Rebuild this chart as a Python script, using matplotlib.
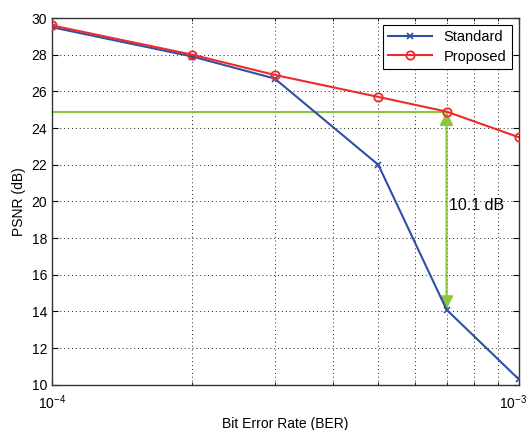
import matplotlib
matplotlib.use("Agg")
import matplotlib.pyplot as plt
import matplotlib.transforms as mtransforms
from matplotlib.ticker import FixedLocator, NullFormatter

plt.rcParams['font.family'] = ['Liberation Sans', 'DejaVu Sans']
plt.rcParams['mathtext.fontset'] = 'custom'
plt.rcParams['mathtext.rm'] = 'Liberation Sans'

ber = [1e-4, 2e-4, 3e-4, 5e-4, 7e-4, 1e-3]
standard = [29.5, 27.9, 26.7, 22.0, 14.1, 10.3]
proposed = [29.6, 28.0, 26.9, 25.7, 24.9, 23.5]
yticks = [10, 12, 14, 16, 18, 20, 22, 24, 26, 28, 30]
gap_label = "10.1 dB"

fig = plt.figure(figsize=(5.3, 4.3), dpi=100)
ax = fig.add_axes([0.098, 0.105, 0.881, 0.853])

green = '#8CC63F'
ax.plot([ber[0], ber[4]], [proposed[4], proposed[4]], color=green, lw=1.5, zorder=2)
ax.annotate('', xy=(ber[4], standard[4]), xytext=(ber[4], proposed[4]),
            arrowprops=dict(arrowstyle='<|-|>', color=green, lw=1.5,
                            mutation_scale=20, shrinkA=0, shrinkB=0), zorder=2)

ax.plot(ber, standard, color='#2F4FA8', lw=1.5, marker='x', ms=5, mew=1.2,
        label='Standard', zorder=3)
ax.plot(ber, proposed, color='#EE2A2A', lw=1.5, marker='o', ms=6, mfc='none',
        mew=1.3, label='Proposed', zorder=4)

ax.text(7.1e-4, 19.8, gap_label, fontsize=11.5, va='center', ha='left')

ax.set_xscale('log')
ax.set_xlim(1e-4, 1e-3)
ax.set_ylim(10, 30)
ax.set_yticks(yticks)
ax.set_xticks([1e-4, 1e-3])
ax.set_xticklabels([r'$\mathregular{10^{-4}}$', r'$\mathregular{10^{-3}}$'])
ax.xaxis.set_minor_locator(FixedLocator([k * 1e-4 for k in range(2, 10)]))
ax.xaxis.set_minor_formatter(NullFormatter())
ax.grid(True, which='both', linestyle=(0, (1, 3)), color='#222222', lw=0.7)
ax.tick_params(which='both', direction='in', top=True, right=True, labelsize=10,
               length=4)
ax.tick_params(axis='x', pad=6)
ax.tick_params(which='minor', length=2.5)
for s in ax.spines.values():
    s.set_linewidth(1.0)
    s.set_color('#333333')

# nudge the last x tick label left so it stays inside the figure
last = ax.get_xticklabels()[-1]
last.set_transform(last.get_transform() +
                   mtransforms.ScaledTranslation(-6 / 100, 0, fig.dpi_scale_trans))

ax.set_xlabel('Bit Error Rate (BER)', fontsize=10)
ax.set_ylabel('PSNR (dB)', fontsize=10)

leg = ax.legend(loc='upper right', fontsize=10.5, fancybox=False, framealpha=1,
                edgecolor='black', borderaxespad=0.5, handlelength=3.0,
                borderpad=0.35, labelspacing=0.35)
leg.get_frame().set_linewidth(0.8)

fig.savefig('out.png', dpi=100)
